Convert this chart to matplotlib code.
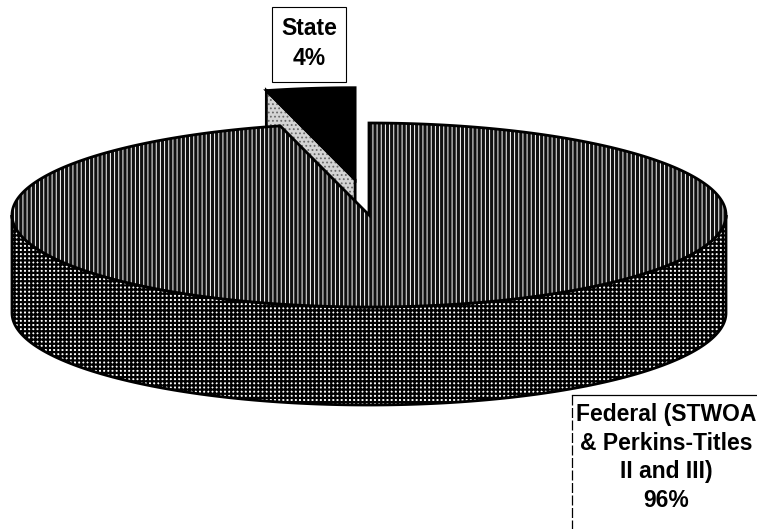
import numpy as np
import matplotlib
matplotlib.use("Agg")
import matplotlib.pyplot as plt
from matplotlib.patches import Polygon, Rectangle

# ---- data ----
categories = ["State", "Federal (STWOA & Perkins-Titles II and III)"]
values = [4, 96]
state_lines = ["State", "4%"]
federal_lines = ["Federal (STWOA", "& Perkins-Titles", "II and III)", "96%"]

# ---- figure ----
fig = plt.figure(figsize=(7.57, 5.29), dpi=100)
ax = fig.add_axes([0, 0, 1, 1])
ax.set_xlim(0, 757)
ax.set_ylim(529, 0)
ax.axis("off")

cx, cy, a, b, D = 369, 215, 357, 92, 98
fracs = np.array(values, dtype=float) / sum(values)
start = 90.0
bounds = start + 360 * np.concatenate([[0], np.cumsum(fracs)])
s0, s1 = bounds[0], bounds[1]      # state slice
f0, f1 = bounds[1], bounds[2]      # federal slice


def rim(th, z=0.0, off=(0.0, 0.0), r=1.0):
    th = np.radians(np.atleast_1d(th))
    x = cx + a * r * np.cos(th) + off[0]
    y = cy - b * r * np.sin(th) + z + off[1]
    return np.column_stack([x, y])


def face(pts, fc, hatch=None, hc="black", hlw=1.0, lw=2.0, z=1):
    if hatch:
        with plt.rc_context({"hatch.linewidth": hlw}):
            p = Polygon(pts, closed=True, facecolor=fc, edgecolor=hc,
                        linewidth=0, hatch=hatch, zorder=z)
        if hasattr(p, "set_hatch_linewidth"):
            p.set_hatch_linewidth(hlw)
        ax.add_patch(p)
    else:
        ax.add_patch(Polygon(pts, closed=True, facecolor=fc, edgecolor="none",
                             linewidth=0, zorder=z))
    ax.add_patch(Polygon(pts, closed=True, fill=False, edgecolor="black",
                         linewidth=lw, joinstyle="miter", zorder=z + 0.5))


# exploded State wedge
mid = np.radians((s0 + s1) / 2)
ex, lift = 0.31, 7
off = (a * ex * np.cos(mid), -b * ex * np.sin(mid) - lift)
c_top = np.array([[cx + off[0], cy + off[1]]])
c_bot = c_top + np.array([[0, D]])
cut = np.vstack([c_top, rim(s1, 0, off), rim(s1, D, off), c_bot])
face(cut, "#d4d4d4", hatch="....", hc="#6a6a6a", hlw=0.8, z=1)
wedge_top = np.vstack([c_top, rim(np.linspace(s0, s1, 30), 0, off)])
face(wedge_top, "black", z=2)

# main Federal slice: front side
th = np.linspace(180, 360, 200)
side = np.vstack([rim(th, 0), rim(th[::-1], D)])
face(side, "white", hatch="++++", hc="black", hlw=1.6, z=3)

# main top face
th = np.linspace(f0, f1, 400)
top = np.vstack([[[cx, cy]], rim(th, 0)])
face(top, "#111111", hatch="||||", hc="white", hlw=0.7, z=4)

# ---- labels ----
fkw = dict(family=["Liberation Sans", "DejaVu Sans"], weight="bold",
           fontsize=16.5, ha="center", va="baseline", zorder=10)

ax.add_patch(Rectangle((272, 7), 74, 75, fill=False, edgecolor="black",
                       linewidth=0.8, zorder=9))
for txt, yb in zip(state_lines, [35, 65]):
    ax.text(309, yb, txt, **fkw)

ax.plot([572, 757], [395, 395], color="black", lw=0.9, zorder=9)
ax.plot([572, 572], [395, 529], color="black", lw=0.9, ls=(0, (8, 2)), zorder=9)
for txt, yb in zip(federal_lines, [421, 450, 478, 507]):
    ax.text(666, yb, txt, **fkw)

fig.savefig("out.png", dpi=100)
